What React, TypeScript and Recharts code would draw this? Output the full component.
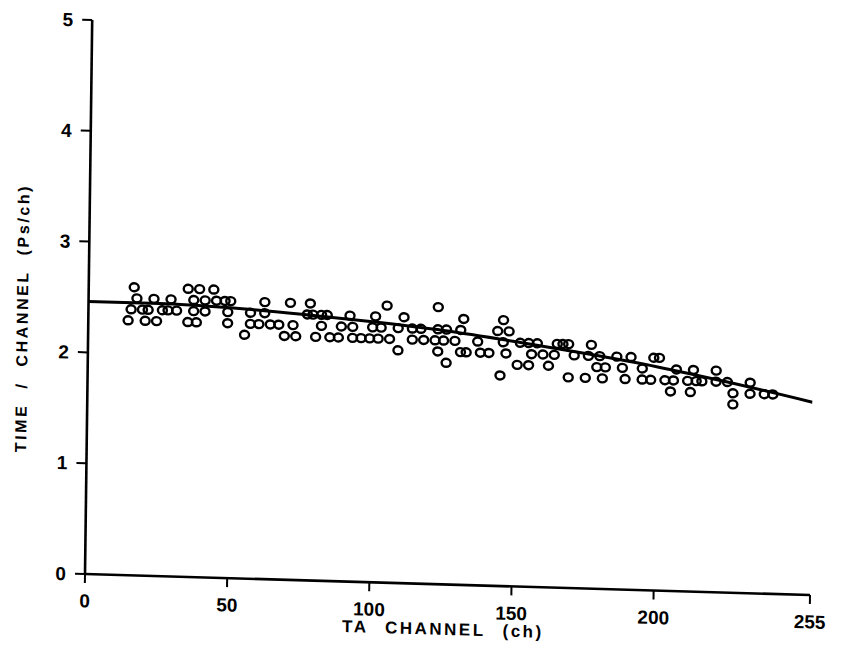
import React from 'react';
import { ComposedChart, Scatter, Line, XAxis, YAxis } from 'recharts';

// Measured time per channel (ps/ch) against TA channel
const CHANNEL = [
  14, 15, 16, 17, 19, 20, 21, 23, 24, 26, 28, 29, 31, 35, 35, 37, 37, 38, 39, 41,
  41, 44, 45, 48, 49, 49, 50, 55, 57, 57, 60, 62, 62, 64, 67, 69, 71, 72, 73, 77,
  78, 79, 80, 82, 82, 84, 85, 88, 89, 92, 93, 93, 96, 99, 100, 101, 102, 103, 105, 106,
  109, 109, 111, 114, 114, 117, 118, 122, 123, 123, 123, 125, 126, 126, 129, 131, 132, 131, 133, 137,
  138, 141, 144, 145, 146, 146, 147, 148, 151, 152, 155, 155, 156, 158, 160, 162, 164, 165, 167, 169,
  171, 169, 175, 176, 177, 179, 180, 182, 181, 186, 188, 189, 191, 195, 195, 198, 199, 201, 203, 205,
  206, 207, 211, 212, 213, 214, 216, 221, 221, 225, 227, 227, 233, 233, 238, 241,
];
const TIME_PER_CHANNEL = [
  2.3, 2.4, 2.6, 2.5, 2.4, 2.3, 2.4, 2.5, 2.3, 2.4, 2.4, 2.5, 2.4, 2.6, 2.3, 2.5, 2.4, 2.3, 2.6, 2.5,
  2.4, 2.6, 2.5, 2.5, 2.4, 2.3, 2.5, 2.2, 2.4, 2.3, 2.3, 2.5, 2.4, 2.3, 2.3, 2.2, 2.5, 2.3, 2.2, 2.4,
  2.5, 2.4, 2.2, 2.4, 2.3, 2.4, 2.2, 2.2, 2.3, 2.4, 2.2, 2.3, 2.2, 2.2, 2.3, 2.4, 2.2, 2.3, 2.5, 2.2,
  2.1, 2.3, 2.4, 2.3, 2.2, 2.3, 2.2, 2.2, 2.5, 2.3, 2.1, 2.2, 2.3, 2.0, 2.2, 2.3, 2.4, 2.1, 2.1, 2.2,
  2.1, 2.1, 2.3, 1.9, 2.4, 2.2, 2.1, 2.3, 2.0, 2.2, 2.0, 2.2, 2.1, 2.2, 2.1, 2.0, 2.1, 2.2, 2.2, 2.2,
  2.1, 1.9, 1.9, 2.1, 2.2, 2.0, 2.1, 2.0, 1.9, 2.1, 2.0, 1.9, 2.1, 2.0, 1.9, 1.9, 2.1, 2.1, 1.9, 1.8,
  1.9, 2.0, 1.9, 1.8, 2.0, 1.9, 1.9, 2.0, 1.9, 1.9, 1.8, 1.7, 1.9, 1.8, 1.8, 1.8,
];

// Fitted calibration curve
const FIT_CHANNEL = [0, 25, 50, 75, 100, 125, 150, 175, 200, 225, 255];
const FIT_TIME = [2.46, 2.46, 2.44, 2.4, 2.35, 2.29, 2.21, 2.12, 2.02, 1.9, 1.74];

const X_TICKS = [0, 50, 100, 150, 200, 255];
const Y_TICKS = [0, 1, 2, 3, 4, 5];

const measured = CHANNEL.map((ch, i) => ({ ch, t: TIME_PER_CHANNEL[i] }));
const fitted = FIT_CHANNEL.map((ch, i) => ({ ch, t: FIT_TIME[i] }));

const INK = '#000';
const FONT = '"Liberation Sans", Arial, Helvetica, sans-serif';

const tickStyle = { fill: INK, fontSize: 19, fontWeight: 700, fontFamily: FONT };

function Ring(props: any) {
  const { cx, cy } = props;
  if (cx == null || cy == null) return null;
  return <ellipse cx={cx} cy={cy} rx={4.5} ry={4} fill="none" stroke={INK} strokeWidth={2.4} />;
}

function XTitle(props: any) {
  const vb = props.viewBox || { x: 0, y: 0, width: 0, height: 0 };
  const cx = vb.x + vb.width / 2 - 4;
  const cy = vb.y + 45;
  return (
    <text
      x={cx}
      y={cy}
      textAnchor="middle"
      dominantBaseline="central"
      fill={INK}
      fontFamily={FONT}
      fontSize={17}
      fontWeight={700}
      letterSpacing={2.5}
      wordSpacing={10}
    >
      TA CHANNEL (ch)
    </text>
  );
}

function YTitle(props: any) {
  const vb = props.viewBox || { x: 0, y: 0, width: 0, height: 0 };
  const cx = vb.x - 6;
  const cy = vb.y + vb.height / 2 + 23;
  return (
    <text
      x={cx}
      y={cy}
      transform={`rotate(-90, ${cx}, ${cy})`}
      textAnchor="middle"
      dominantBaseline="central"
      fill={INK}
      fontFamily={FONT}
      fontSize={16}
      fontWeight={700}
      letterSpacing={2.6}
      wordSpacing={8}
    >
      TIME / CHANNEL (Ps/ch)
    </text>
  );
}

export default function App() {
  return (
    <div
      style={{
        position: 'absolute',
        left: 0,
        top: 0,
        width: 845,
        height: 664,
        transform: 'matrix(1, 0.029, -0.013, 1, 0, 0)',
        transformOrigin: '85px 574px',
      }}
    >
      <ComposedChart
        width={845}
        height={664}
        margin={{ top: 20, right: 35, bottom: 30, left: 25 }}
      >
        <XAxis
          type="number"
          dataKey="ch"
          domain={[0, 255]}
          ticks={X_TICKS}
          interval={0}
          allowDataOverflow
          height={60}
          axisLine={{ stroke: INK, strokeWidth: 2.6 }}
          tickLine={{ stroke: INK, strokeWidth: 2 }}
          tickSize={9}
          tickMargin={11}
          tick={tickStyle}
          label={<XTitle />}
        />
        <YAxis
          type="number"
          dataKey="t"
          domain={[0, 5]}
          ticks={Y_TICKS}
          interval={0}
          allowDataOverflow
          width={60}
          axisLine={{ stroke: INK, strokeWidth: 2.6 }}
          tickLine={{ stroke: INK, strokeWidth: 2 }}
          tickSize={10}
          tickMargin={9}
          tick={tickStyle}
          label={<YTitle />}
        />
        <Line
          data={fitted}
          dataKey="t"
          type="monotone"
          stroke={INK}
          strokeWidth={3}
          dot={false}
          activeDot={false}
          isAnimationActive={false}
        />
        <Scatter data={measured} dataKey="t" shape={<Ring />} isAnimationActive={false} />
      </ComposedChart>
    </div>
  );
}
